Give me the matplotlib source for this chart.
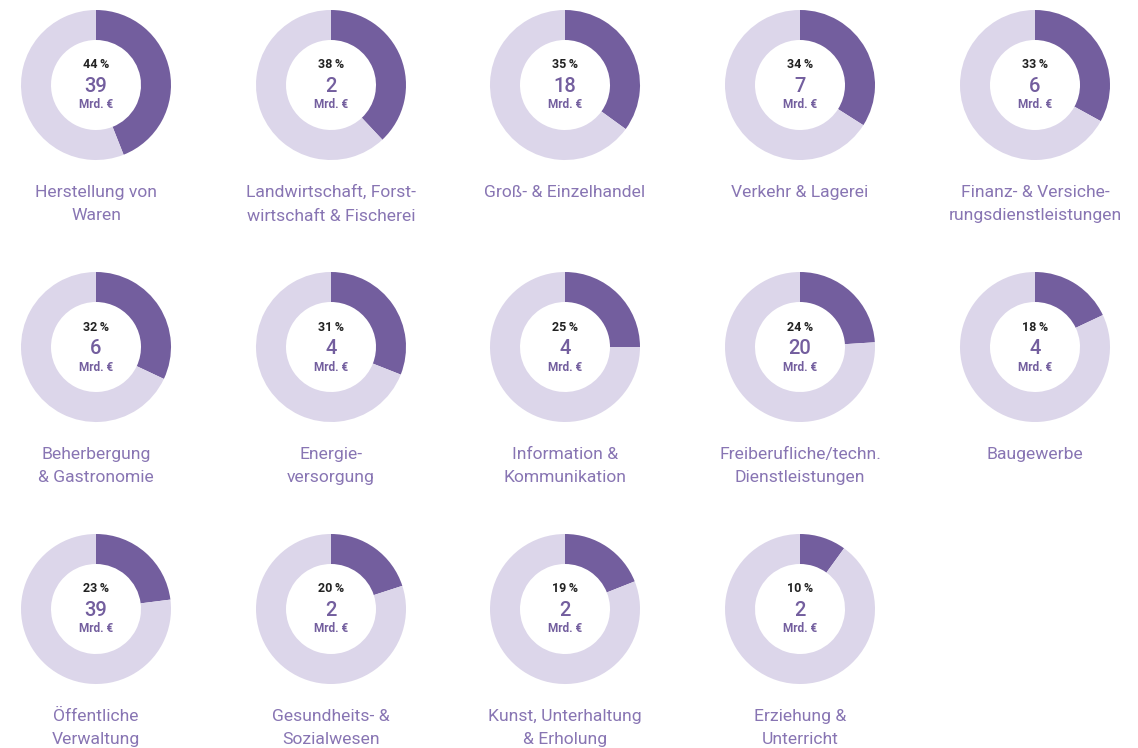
import matplotlib
matplotlib.use("Agg")
import matplotlib.pyplot as plt

plt.rcParams['font.family'] = ['Roboto', 'DejaVu Sans']

# Daten
categories = [
    "Herstellung von\nWaren", "Landwirtschaft, Forst-\nwirtschaft & Fischerei",
    "Groß- & Einzelhandel", "Verkehr & Lagerei",
    "Finanz- & Versiche-\nrungsdienstleistungen",
    "Beherbergung\n& Gastronomie", "Energie-\nversorgung",
    "Information &\nKommunikation", "Freiberufliche/techn.\nDienstleistungen",
    "Baugewerbe",
    "Öffentliche\nVerwaltung", "Gesundheits- &\nSozialwesen",
    "Kunst, Unterhaltung\n& Erholung", "Erziehung &\nUnterricht",
]
shares = [44, 38, 35, 34, 33, 32, 31, 25, 24, 18, 23, 20, 19, 10]
values = [39, 2, 18, 7, 6, 6, 4, 4, 20, 4, 39, 2, 2, 2]

dark = '#735e9e'
light = '#dcd6ea'
text_purple = '#735e9e'
label_purple = '#8875b3'

W, H = 1138, 748
fig = plt.figure(figsize=(W / 100, H / 100), dpi=100)
fig.patch.set_facecolor('white')

col_x = [96, 331, 565, 800, 1035]
row_y = [85, 347, 609]
r = 75

for i, (cat, s, v) in enumerate(zip(categories, shares, values)):
    cx = col_x[i % 5]
    cy = row_y[i // 5]
    ax = fig.add_axes([(cx - r) / W, 1 - (cy + r) / H, 2 * r / W, 2 * r / H])
    ax.pie([s, 100 - s], colors=[dark, light], startangle=90, counterclock=False,
           radius=1, wedgeprops=dict(width=0.4, linewidth=0))
    ax.set_xlim(-1, 1)
    ax.set_ylim(-1, 1)
    ax.set_aspect('equal')
    ax.axis('off')

    fig.text(cx / W, 1 - (cy - 20) / H, f"{s}\u2009%", ha='center', va='center',
             fontsize=9, fontweight='semibold', color='#222222')
    fig.text(cx / W, 1 - (cy + 1) / H, str(v), ha='center', va='center',
             fontsize=14.5, fontweight='medium', color=text_purple)
    fig.text(cx / W, 1 - (cy + 20) / H, "Mrd. €", ha='center', va='center',
             fontsize=8.5, fontweight='bold', color=text_purple)
    fig.text(cx / W, 1 - (cy + 100) / H, cat, ha='center', va='top',
             fontsize=12.6, fontweight='normal', color=label_purple, linespacing=1.7)

fig.savefig('out.png', dpi=100, facecolor='white')
